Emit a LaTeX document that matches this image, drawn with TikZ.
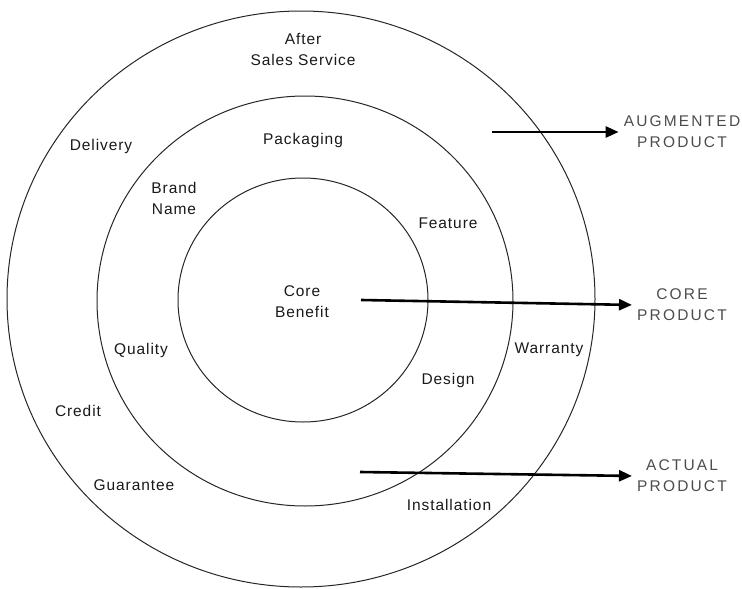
\documentclass[tikz,border=0pt]{standalone}
\usepackage{fontspec}
\setmainfont{Liberation Sans}[LetterSpace=6]
\newfontfamily\widefont{Liberation Sans}[LetterSpace=14]
\usetikzlibrary{arrows.meta,positioning}

\begin{document}
\begin{tikzpicture}[x=1pt, y=-1pt,
    ring/.style={draw=black!85, line width=1pt},
    lbl/.style={align=center, inner sep=1pt, font=\fontsize{15.5}{21}\selectfont, text=black!90},
    levellbl/.style={align=center, inner sep=2pt, font=\widefont\fontsize{15.5}{21}\selectfont, text=black!70},
    pointer/.style={line width=2.6pt, -{Triangle[length=13pt, width=11pt]}, shorten >=3pt}
  ]
  \useasboundingbox (0,0) rectangle (742,589);

  % three rings
  \draw[ring] (301,299) ellipse [x radius=294, y radius=288];
  \draw[ring] (305,301) ellipse [x radius=208, y radius=205];
  \draw[ring] (303,300) ellipse [x radius=125, y radius=122];

  % ring texts
  \node[lbl] (after)    at (303,49)  {After\\Sales Service};
  \node[lbl] (delivery) at (101,146) {Delivery};
  \node[lbl] (packing)  at (303,140) {Packaging};
  \node[lbl] (brand)    at (174,198) {Brand\\Name};
  \node[lbl] (feature)  at (448,223) {Feature};
  \node[lbl] (core)     at (302,302) {Core\\Benefit};
  \node[lbl] (quality)  at (141,350) {Quality};
  \node[lbl] (warranty) at (549,350) {Warranty};
  \node[lbl] (design)   at (448,380) {Design};
  \node[lbl] (credit)   at (78,411)  {Credit};
  \node[lbl] (guarant)  at (134,485) {Guarantee};
  \node[lbl] (install)  at (449,505) {Installation};

  % levels on the right
  \node[levellbl] (augmented) at (682,132) {AUGMENTED\\PRODUCT};
  \node[levellbl] (coreprod)  at (682,305) {CORE\\PRODUCT};
  \node[levellbl] (actual)    at (682,476) {ACTUAL\\PRODUCT};

  \coordinate (augtail)    at (492,132);
  \coordinate (coretail)   at (361,300);
  \coordinate (actualtail) at (360,472);

  \draw[pointer] (augtail)    -- (augmented.west);
  \draw[pointer] (coretail)   -- (coreprod.west);
  \draw[pointer] (actualtail) -- (actual.west);
\end{tikzpicture}
\end{document}
